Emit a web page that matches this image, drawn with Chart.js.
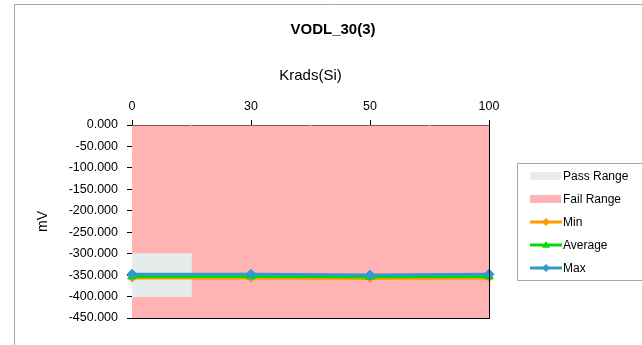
<!DOCTYPE html>
<html>
<head>
<meta charset="utf-8">
<script src="https://cdn.jsdelivr.net/npm/chart.js@4.4.0/dist/chart.umd.min.js"></script>
<style>
html, body { margin: 0; padding: 0; background: #fff; }
#wrap { width: 642px; height: 345px; }
</style>
</head>
<body>
<div id="wrap"><canvas id="graf"></canvas></div>
<script>
//---------------------------------------------------------------------------
//                         DADOS

const categorias = ['0', '30', '50', '100'];
const passRange = [[-400, -300], null, null, null];
const failRange = [[-450, 0], [-450, 0], [-450, 0], [-450, 0]];
const valMin = [-357, -357, -358, -357];
const valMedia = [-353, -353, -354, -353];
const valMax = [-348, -348, -350, -348];
const eixoYMin = -450;
const eixoYMax = 0;
const eixoYPasso = 50;

const fonte = 'Liberation Sans, Arial, sans-serif';

//---------------------------------------------------------------------------
//                         PLUGINS (moldura, legenda estilo Excel)

const moldura = {
    id: 'moldura',
    beforeDraw(chart) {
        const ctx = chart.ctx;
        ctx.save();
        ctx.fillStyle = '#fff';
        ctx.fillRect(0, 0, chart.width, chart.height);
        ctx.strokeStyle = '#a6a6a6';
        ctx.lineWidth = 1;
        ctx.beginPath();
        ctx.moveTo(14.5, chart.height);
        ctx.lineTo(14.5, 4.5);
        ctx.lineTo(chart.width, 4.5);
        ctx.stroke();
        ctx.restore();
    },
    afterDatasetsDraw(chart) {
        const a = chart.chartArea;
        const ctx = chart.ctx;
        ctx.save();
        ctx.strokeStyle = '#000';
        ctx.lineWidth = 1;
        ctx.beginPath();
        ctx.moveTo(a.right + 0.5, a.top);
        ctx.lineTo(a.right + 0.5, a.bottom + 0.5);
        ctx.lineTo(a.left, a.bottom + 0.5);
        ctx.stroke();
        ctx.restore();
    }
};

function marcador(ctx, estilo, x, y, r, cor) {
    ctx.fillStyle = cor;
    ctx.beginPath();
    if (estilo === 'triangle') {
        ctx.moveTo(x, y - r);
        ctx.lineTo(x + r, y + r * 0.7);
        ctx.lineTo(x - r, y + r * 0.7);
    } else {
        ctx.moveTo(x, y - r);
        ctx.lineTo(x + r, y);
        ctx.lineTo(x, y + r);
        ctx.lineTo(x - r, y);
    }
    ctx.closePath();
    ctx.fill();
}

const legendaExcel = {
    id: 'legendaExcel',
    afterDraw(chart) {
        const ctx = chart.ctx;
        ctx.save();
        ctx.strokeStyle = '#a6a6a6';
        ctx.lineWidth = 1;
        ctx.strokeRect(517.5, 163.5, 140, 117);
        ctx.font = '12px ' + fonte;
        ctx.textBaseline = 'middle';
        ctx.textAlign = 'left';
        chart.data.datasets.forEach((ds, i) => {
            const y = 176 + i * 23;
            if (ds.type === 'bar') {
                ctx.fillStyle = ds.backgroundColor;
                ctx.fillRect(530, y - 4, 31, 8);
            } else {
                ctx.strokeStyle = ds.borderColor;
                ctx.lineWidth = 3;
                ctx.beginPath();
                ctx.moveTo(530, y);
                ctx.lineTo(562, y);
                ctx.stroke();
                marcador(ctx, ds.pointStyle, 546, y, 4, ds.borderColor);
            }
            ctx.fillStyle = '#000';
            ctx.fillText(ds.label, 563, y + 1);
        });
        ctx.restore();
    }
};

//---------------------------------------------------------------------------
//                         GRÁFICO

const grafico = document.getElementById('graf');
const graf = new Chart(grafico, {
    data: {
        labels: categorias,
        datasets: [{
            type: 'bar',
            label: 'Pass Range',
            data: passRange,
            backgroundColor: '#e6ebeb',
            borderWidth: 0,
            grouped: false,
            barPercentage: 1,
            categoryPercentage: 1,
            clip: 0,
            order: 4
        }, {
            type: 'bar',
            label: 'Fail Range',
            data: failRange,
            backgroundColor: '#ffb3b3',
            borderWidth: 0,
            grouped: false,
            barPercentage: 1,
            categoryPercentage: 1.02,
            clip: 0,
            order: 5
        }, {
            type: 'line',
            label: 'Min',
            data: valMin,
            borderColor: '#ff9900',
            backgroundColor: '#ff9900',
            borderWidth: 3,
            pointStyle: 'rectRot',
            pointRadius: 4,
            pointBorderWidth: 1,
            order: 3
        }, {
            type: 'line',
            label: 'Average',
            data: valMedia,
            borderColor: '#00dd00',
            backgroundColor: '#00dd00',
            borderWidth: 3,
            pointStyle: 'triangle',
            pointRadius: 5,
            pointBorderWidth: 1,
            order: 2
        }, {
            type: 'line',
            label: 'Max',
            data: valMax,
            borderColor: '#3399cc',
            backgroundColor: '#3399cc',
            borderWidth: 3,
            pointStyle: 'rectRot',
            pointRadius: 5,
            pointBorderWidth: 1,
            order: 1
        }]
    },
    options: {
        responsive: true,
        maintainAspectRatio: false,
        animation: false,
        layout: {
            padding: { left: 24, right: 0, top: 5, bottom: 27 }
        },
        plugins: {
            legend: { display: false },
            tooltip: { enabled: false },
            title: {
                display: true,
                text: 'VODL_30(3)',
                color: '#000',
                font: { family: fonte, size: 15, weight: 'bold' },
                padding: { top: 16, bottom: 10 }
            }
        },
        scales: {
            x: {
                position: 'top',
                offset: false,
                afterFit: (s) => { s.height = 76; },
                title: {
                    display: true,
                    text: 'Krads(Si)',
                    color: '#000',
                    font: { family: fonte, size: 15 },
                    padding: { top: 18, bottom: 0 }
                },
                ticks: {
                    color: '#000',
                    font: { family: fonte, size: 12.5 },
                    padding: 6,
                    maxRotation: 0
                },
                grid: {
                    offset: false,
                    drawOnChartArea: false,
                    tickLength: 5,
                    color: '#000'
                },
                border: { color: '#000', width: 1 }
            },
            y: {
                min: eixoYMin,
                max: eixoYMax,
                afterFit: (s) => { s.width = 108; },
                title: {
                    display: true,
                    text: 'mV',
                    color: '#000',
                    font: { family: fonte, size: 14 },
                    padding: { top: 11, bottom: 0 }
                },
                ticks: {
                    stepSize: eixoYPasso,
                    color: '#000',
                    font: { family: fonte, size: 12.5 },
                    padding: 9,
                    callback: (v) => v.toFixed(3)
                },
                grid: {
                    drawOnChartArea: false,
                    tickLength: 5,
                    color: '#000'
                },
                border: { color: '#000', width: 1 }
            },
            // espaço reservado à direita para a legenda
            espaco: {
                type: 'linear',
                position: 'right',
                afterFit: (s) => { s.width = 153; },
                ticks: { display: false },
                grid: { display: false },
                border: { display: false }
            }
        }
    },
    plugins: [moldura, legendaExcel]
});
</script>
</body>
</html>
